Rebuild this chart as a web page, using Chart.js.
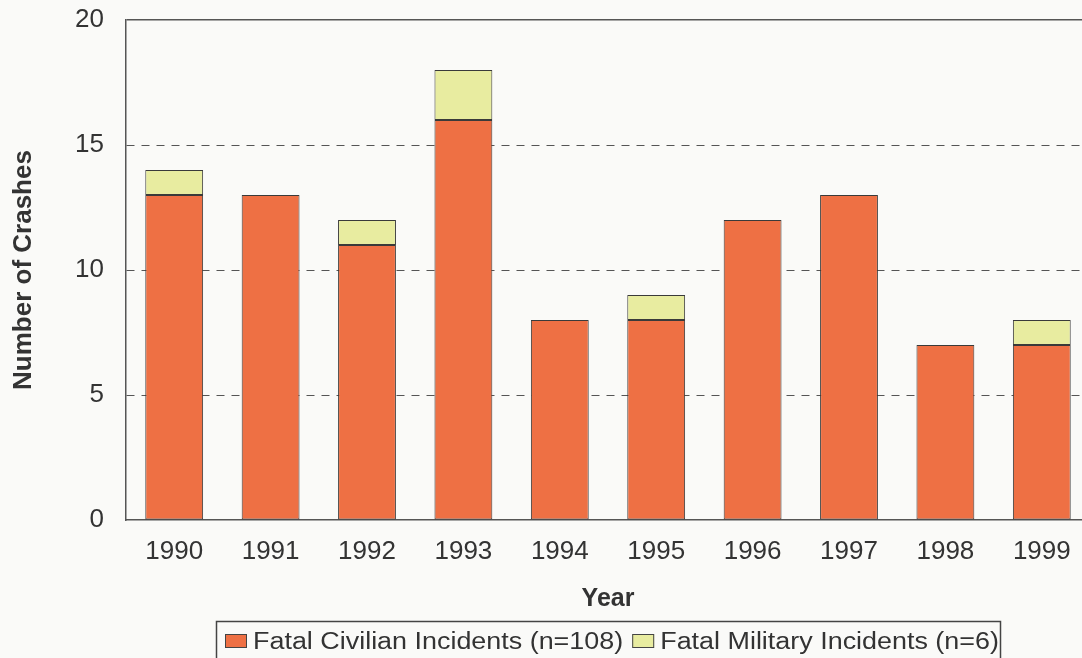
<!DOCTYPE html>
<html>
<head>
<meta charset="utf-8">
<script src="https://cdn.jsdelivr.net/npm/chart.js@4/dist/chart.umd.min.js"></script>
<style>
    html, body { margin: 0; padding: 0; background: #fafaf8; overflow: hidden; }
    #wrap { width: 1100px; height: 672px; }
</style>
</head>
<body>
<div id="wrap"><canvas id="crashes"></canvas></div>
<script>
const years = ['1990', '1991', '1992', '1993', '1994', '1995', '1996', '1997', '1998', '1999'];
const civilian = [13, 13, 11, 16, 8, 8, 12, 13, 7, 7];
const military = [1, 0, 1, 2, 0, 1, 0, 0, 0, 1];
const seriesNames = ['Fatal Civilian Incidents (n=108)', 'Fatal Military Incidents (n=6)'];
const seriesColors = ['#ee7044', '#e8eca0'];

const textColor = '#333333';
const fontFamily = '"Liberation Sans", Arial, sans-serif';

// legend drawn by hand so the frame and the wide lettering can match
const boxLegend = {
    id: 'boxLegend',
    afterDraw(chart) {
        const ctx = chart.ctx;
        const stretch = 1.17;
        ctx.save();
        ctx.font = '23px ' + fontFamily;
        ctx.textBaseline = 'alphabetic';
        ctx.strokeStyle = '#444';
        ctx.lineWidth = 1.5;
        ctx.strokeRect(216.5, 621.5, 784, 60);

        let x = 225;
        seriesNames.forEach((name, i) => {
            ctx.fillStyle = seriesColors[i];
            ctx.fillRect(x, 634, 22, 14);
            ctx.strokeStyle = '#444';
            ctx.lineWidth = 1;
            ctx.strokeRect(x + 0.5, 634.5, 21, 13);

            const tx = x + 28;
            ctx.save();
            ctx.translate(tx, 649);
            ctx.scale(stretch, 1);
            ctx.fillStyle = textColor;
            ctx.fillText(name, 0, 0);
            ctx.restore();
            x = tx + ctx.measureText(name).width * stretch + 9;
        });
        ctx.restore();
    }
};

const ctx = document.getElementById('crashes').getContext('2d');
new Chart(ctx, {
    type: 'bar',
    data: {
        labels: years,
        datasets: [{
            label: seriesNames[0],
            data: civilian,
            backgroundColor: seriesColors[0],
            borderColor: '#3a3a3a',
            borderWidth: 1,
            borderSkipped: false
        }, {
            label: seriesNames[1],
            data: military,
            backgroundColor: seriesColors[1],
            borderColor: '#3a3a3a',
            borderWidth: 1,
            borderSkipped: false
        }]
    },
    options: {
        responsive: true,
        maintainAspectRatio: false,
        animation: false,
        layout: { padding: { top: 20, right: 10, bottom: 58, left: 0 } },
        datasets: { bar: { barPercentage: 0.6, categoryPercentage: 1 } },
        plugins: {
            legend: { display: false },
            tooltip: { enabled: false }
        },
        scales: {
            x: {
                stacked: true,
                grid: { display: false, drawTicks: false },
                border: { display: true, color: '#555', width: 1.5 },
                ticks: { color: textColor, font: { size: 26, family: fontFamily }, padding: 16 },
                title: {
                    display: true,
                    text: 'Year',
                    color: textColor,
                    font: { size: 25, weight: 'bold', family: fontFamily },
                    padding: { top: 0, bottom: 0 }
                },
                afterFit(scale) {
                    scale.height = 94;
                    scale.paddingLeft = 0;
                    scale.paddingRight = 0;
                }
            },
            y: {
                stacked: true,
                min: 0,
                max: 20,
                ticks: { stepSize: 5, color: textColor, font: { size: 26, family: fontFamily }, padding: 22 },
                grid: {
                    drawTicks: false,
                    color: function (c) { return c.tick && c.tick.value === 0 ? 'rgba(0,0,0,0)' : '#555'; },
                    lineWidth: function (c) { return c.tick && c.tick.value === 20 ? 1.5 : 1; }
                },
                border: {
                    display: true,
                    color: '#555',
                    width: 1.5,
                    dash: function (c) { return c.tick && c.tick.value === 20 ? [] : [8, 7]; }
                },
                title: {
                    display: true,
                    text: 'Number of Crashes',
                    color: textColor,
                    font: { size: 26, weight: 'bold', family: fontFamily },
                    padding: { top: 8, bottom: 0 }
                },
                afterFit(scale) {
                    scale.width = 126;
                    scale.paddingTop = 0;
                    scale.paddingBottom = 0;
                }
            }
        }
    },
    plugins: [boxLegend]
});
</script>
</body>
</html>
